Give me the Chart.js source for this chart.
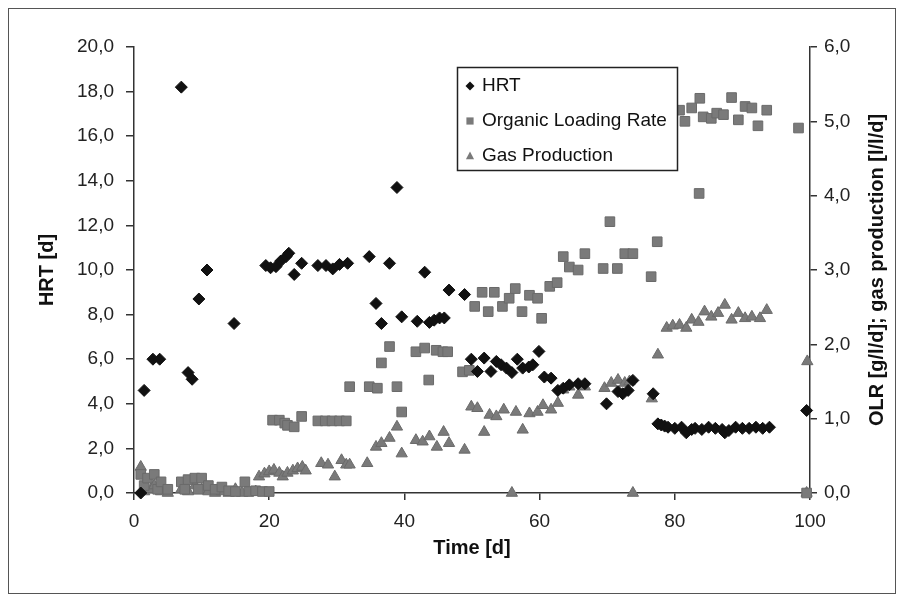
<!DOCTYPE html>
<html>
<head>
<meta charset="utf-8">
<script src="https://cdn.jsdelivr.net/npm/chart.js@4.4.1/dist/chart.umd.min.js"></script>
<style>
  html, body { margin: 0; padding: 0; background: #fff; }
  #wrap { position: relative; width: 905px; height: 602px; }
  #frame { position: absolute; left: 8px; top: 8px; width: 886px; height: 584px; border: 1.5px solid #555; pointer-events: none; }
</style>
</head>
<body>
<div id="wrap">
  <canvas id="grafica" width="905" height="602"></canvas>
  <div id="frame"></div>
</div>
<script>
// HRT [d] (eje izquierdo)
const hrtDias = [1, 1.5, 2.8, 3.8, 7, 8, 8.6, 9.6, 10.8, 14.8,
  19.5, 20.2, 21, 21.7, 22.5, 22.9, 23.7, 24.8, 27.2, 28.4, 29.4, 30.4, 31.6,
  34.8, 35.8, 36.6, 37.8, 38.9, 39.6, 41.9, 43, 43.7, 44.4, 45.2, 45.9, 46.6, 48.9,
  49.9, 50.8, 51.8, 52.8, 53.6, 54.3, 55.1, 55.9, 56.7, 57.5, 58.4, 59, 59.9, 60.7, 61.7, 62.7, 63.5, 64.4, 65.7, 66.7,
  69.9, 71.6, 72.3, 73.1, 73.8, 76.8,
  77.5, 78, 78.5, 79, 80, 81, 81.7, 82.5, 83, 84, 85, 86, 87, 87.4, 88, 89, 90, 91, 92, 93, 94,
  99.5];
const hrtValores = [0, 4.6, 6.0, 6.0, 18.2, 5.4, 5.1, 8.7, 10.0, 7.6,
  10.2, 10.1, 10.15, 10.4, 10.6, 10.75, 9.8, 10.3, 10.2, 10.2, 10.05, 10.25, 10.3,
  10.6, 8.5, 7.6, 10.3, 13.7, 7.9, 7.7, 9.9, 7.65, 7.75, 7.85, 7.85, 9.1, 8.9,
  6.0, 5.45, 6.05, 5.45, 5.9, 5.75, 5.6, 5.4, 6.0, 5.6, 5.65, 5.75, 6.35, 5.2, 5.15, 4.6, 4.7, 4.85, 4.9, 4.9,
  4.0, 4.55, 4.45, 4.6, 5.05, 4.45,
  3.1, 3.05, 3.0, 2.95, 2.9, 2.95, 2.7, 2.85, 2.9, 2.85, 2.95, 2.9, 2.85, 2.7, 2.8, 2.95, 2.9, 2.9, 2.95, 2.9, 2.95,
  3.7];

// OLR [g/l/d] (eje derecho)
const olrDias = [1, 1.5, 2, 3, 3.5, 4, 5, 7, 7.5, 8, 9, 9.5, 10, 11, 12, 13, 14, 15, 16.4, 17, 18, 19, 20,
  20.5, 21.5, 22.3, 22.7, 23.7, 24.8, 27.2, 28.3, 29.3, 30.4, 31.4,
  31.9, 34.8, 36, 36.6, 37.8, 38.9, 39.6, 41.7, 43, 43.6, 44.7, 45.7, 46.4, 48.6, 49.6,
  50.4, 51.5, 52.4, 53.3, 54.5, 55.5, 56.4, 57.4, 58.5, 59.7, 60.3, 61.5, 62.6, 63.5, 64.4, 65.7, 66.7,
  69.4, 70.4, 71.5, 72.6, 73.8, 76.5, 77.4,
  80.7, 81.5, 82.5, 83.6, 83.7, 84.2, 85.4, 86.2, 87.2, 88.4, 89.4, 90.4, 91.4, 92.3, 93.6, 98.3, 99.5];
const olrValores = [0.25, 0.1, 0.2, 0.25, 0.05, 0.15, 0.05, 0.15, 0.05, 0.18, 0.2, 0.05, 0.2, 0.1, 0.05, 0.08, 0.03, 0.02, 0.15, 0.02, 0.03, 0.02, 0.02,
  0.98, 0.98, 0.94, 0.91, 0.89, 1.03, 0.97, 0.97, 0.97, 0.97, 0.97,
  1.43, 1.43, 1.41, 1.75, 1.97, 1.43, 1.09, 1.9, 1.95, 1.52, 1.92, 1.9, 1.9, 1.63, 1.65,
  2.51, 2.7, 2.44, 2.7, 2.51, 2.62, 2.75, 2.44, 2.66, 2.62, 2.35, 2.78, 2.83, 3.18, 3.04, 3.0, 3.22,
  3.02, 3.65, 3.02, 3.22, 3.22, 2.91, 3.38,
  5.15, 5.0, 5.18, 4.03, 5.31, 5.06, 5.04, 5.11, 5.09, 5.32, 5.02, 5.2, 5.18, 4.94, 5.15, 4.91, 0];

// Producción de gas [l/l/d] (eje derecho)
const gasDias = [1, 1.5, 2.5, 3, 4, 5, 7, 8, 9, 10, 11, 12, 13, 14, 15, 16, 18,
  18.5, 19.3, 20, 20.7, 21.5, 22, 22.7, 23.5, 24.2, 24.9, 25.4,
  27.7, 28.7, 29.7, 30.7, 31.4, 31.9, 34.5,
  35.8, 36.6, 37.8, 38.9, 39.6, 41.7, 42.7, 43.7, 44.8, 45.8, 46.6, 48.9,
  49.9, 50.8, 51.8, 52.6, 53.6, 54.7, 55.9, 56.5, 57.5, 58.5, 59.7, 60.5, 61.7, 62.7, 63.5, 64.4, 65.7, 66.7,
  69.6, 70.6, 71.6, 72.6, 73.3, 73.8, 76.6, 77.5,
  78.8, 79.7, 80.7, 81.7, 82.5, 83.5, 84.4, 85.4, 86.4, 87.4, 88.4, 89.4, 90.4, 91.4, 92.6, 93.6,
  99.5, 99.6];
const gasValores = [0.35, 0.02, 0.05, 0.1, 0.02, 0, 0.05, 0.02, 0.1, 0.05, 0.02, 0, 0.02, 0, 0.05, 0, 0.02,
  0.22, 0.26, 0.29, 0.31, 0.27, 0.22, 0.27, 0.3, 0.33, 0.35, 0.3,
  0.4, 0.38, 0.22, 0.44, 0.38, 0.38, 0.4,
  0.62, 0.67, 0.74, 0.89, 0.53, 0.71, 0.69, 0.76, 0.62, 0.82, 0.67, 0.58,
  1.16, 1.14, 0.82, 1.05, 1.03, 1.12, 0, 1.09, 0.85, 1.07, 1.09, 1.18, 1.12, 1.21, 1.39, 1.43, 1.32, 1.43,
  1.41, 1.48, 1.52, 1.48, 1.5, 0, 1.27, 1.86,
  2.22, 2.25, 2.26, 2.22, 2.33, 2.3, 2.44, 2.37, 2.42, 2.53, 2.33, 2.42, 2.35, 2.37, 2.35, 2.46,
  0, 1.77];

const ticksX = [0, 20, 40, 60, 80, 100];

const fuente = '"Liberation Sans", Arial, sans-serif';
const coma = v => v.toFixed(1).replace('.', ',');
const puntos = (xs, ys) => xs.map((x, i) => ({ x, y: ys[i] }));

function marcador(ctx, estilo, x, y, r) {
    ctx.beginPath();
    if (estilo === 'rectRot') {
        ctx.moveTo(x, y - r); ctx.lineTo(x + r, y); ctx.lineTo(x, y + r); ctx.lineTo(x - r, y);
    } else if (estilo === 'rect') {
        ctx.rect(x - r * 0.8, y - r * 0.8, r * 1.6, r * 1.6);
    } else {
        ctx.moveTo(x, y - r); ctx.lineTo(x + r * 0.9, y + r * 0.7); ctx.lineTo(x - r * 0.9, y + r * 0.7);
    }
    ctx.closePath();
    ctx.fill();
}

// leyenda dentro del área del gráfico
const leyenda = {
    id: 'leyenda',
    afterDatasetsDraw(chart) {
        const ctx = chart.ctx;
        ctx.save();
        ctx.fillStyle = '#fff';
        ctx.fillRect(457, 67, 220, 103);
        ctx.strokeStyle = '#222';
        ctx.lineWidth = 1.5;
        ctx.strokeRect(457.5, 67.5, 220, 103);
        ctx.font = '19px ' + fuente;
        ctx.textBaseline = 'middle';
        chart.data.datasets.forEach((ds, i) => {
            const y = 86 + i * 35;
            ctx.fillStyle = ds.backgroundColor;
            marcador(ctx, ds.pointStyle, 470, y, 4.5);
            ctx.fillStyle = '#111';
            ctx.fillText(ds.label, 482, y);
        });
        ctx.restore();
    }
};

// título del eje derecho, leído de abajo arriba
const tituloDerecho = {
    id: 'tituloDerecho',
    afterDraw(chart) {
        const ctx = chart.ctx;
        const a = chart.chartArea;
        ctx.save();
        ctx.translate(877, (a.top + a.bottom) / 2);
        ctx.rotate(-Math.PI / 2);
        ctx.font = 'bold 20px ' + fuente;
        ctx.fillStyle = '#111';
        ctx.textAlign = 'center';
        ctx.textBaseline = 'middle';
        ctx.fillText('OLR [g/l/d]; gas production [l/l/d]', 0, 0);
        ctx.restore();
    }
};

new Chart(document.getElementById('grafica'), {
    type: 'scatter',
    data: {
        datasets: [{
            label: 'HRT',
            data: puntos(hrtDias, hrtValores),
            yAxisID: 'y',
            pointStyle: 'rectRot',
            pointRadius: 6,
            backgroundColor: '#111',
            borderColor: '#111',
            borderWidth: 1,
            clip: false
        }, {
            label: 'Organic Loading Rate',
            data: puntos(olrDias, olrValores),
            yAxisID: 'y2',
            pointStyle: 'rect',
            pointRadius: 6.8,
            backgroundColor: '#7a7a7a',
            borderColor: '#6a6a6a',
            borderWidth: 1,
            clip: false
        }, {
            label: 'Gas Production',
            data: puntos(gasDias, gasValores),
            yAxisID: 'y2',
            pointStyle: 'triangle',
            pointRadius: 6.5,
            backgroundColor: '#7a7a7a',
            borderColor: '#6a6a6a',
            borderWidth: 1,
            clip: false
        }]
    },
    options: {
        responsive: false,
        animation: false,
        layout: { padding: { top: 47, left: 8, right: 8, bottom: 10 } },
        plugins: {
            legend: { display: false },
            tooltip: { enabled: false }
        },
        scales: {
            x: {
                type: 'linear',
                min: 0,
                max: 100,
                afterBuildTicks: s => { s.ticks = ticksX.map(v => ({ value: v })); },
                afterFit: s => { s.height = 99; },
                ticks: { color: '#222', font: { family: fuente, size: 19 }, padding: 10, maxRotation: 0 },
                grid: { drawOnChartArea: false, tickLength: 7, color: '#333', lineWidth: 1.5 },
                border: { color: '#333', width: 1.5 },
                title: {
                    display: true, text: 'Time [d]', color: '#111',
                    font: { family: fuente, size: 20, weight: 'bold' },
                    padding: { top: 0, bottom: 32 }
                }
            },
            y: {
                position: 'left',
                min: 0,
                max: 20,
                afterFit: s => { s.width = 126; },
                ticks: { stepSize: 2, color: '#222', font: { family: fuente, size: 19 }, padding: 12, callback: coma },
                grid: { drawOnChartArea: false, tickLength: 8, color: '#333', lineWidth: 1.5 },
                border: { color: '#333', width: 1.5 },
                title: {
                    display: true, text: 'HRT [d]', color: '#111',
                    font: { family: fuente, size: 20, weight: 'bold' },
                    padding: { top: 27, bottom: 0 }
                }
            },
            y2: {
                position: 'right',
                min: 0,
                max: 6,
                afterFit: s => { s.width = 87; },
                ticks: { stepSize: 1, color: '#222', font: { family: fuente, size: 19 }, padding: 7, callback: coma },
                grid: { drawOnChartArea: false, tickLength: 7, color: '#333', lineWidth: 1.5 },
                border: { color: '#333', width: 1.5 }
            }
        }
    },
    plugins: [leyenda, tituloDerecho]
});
</script>
</body>
</html>
